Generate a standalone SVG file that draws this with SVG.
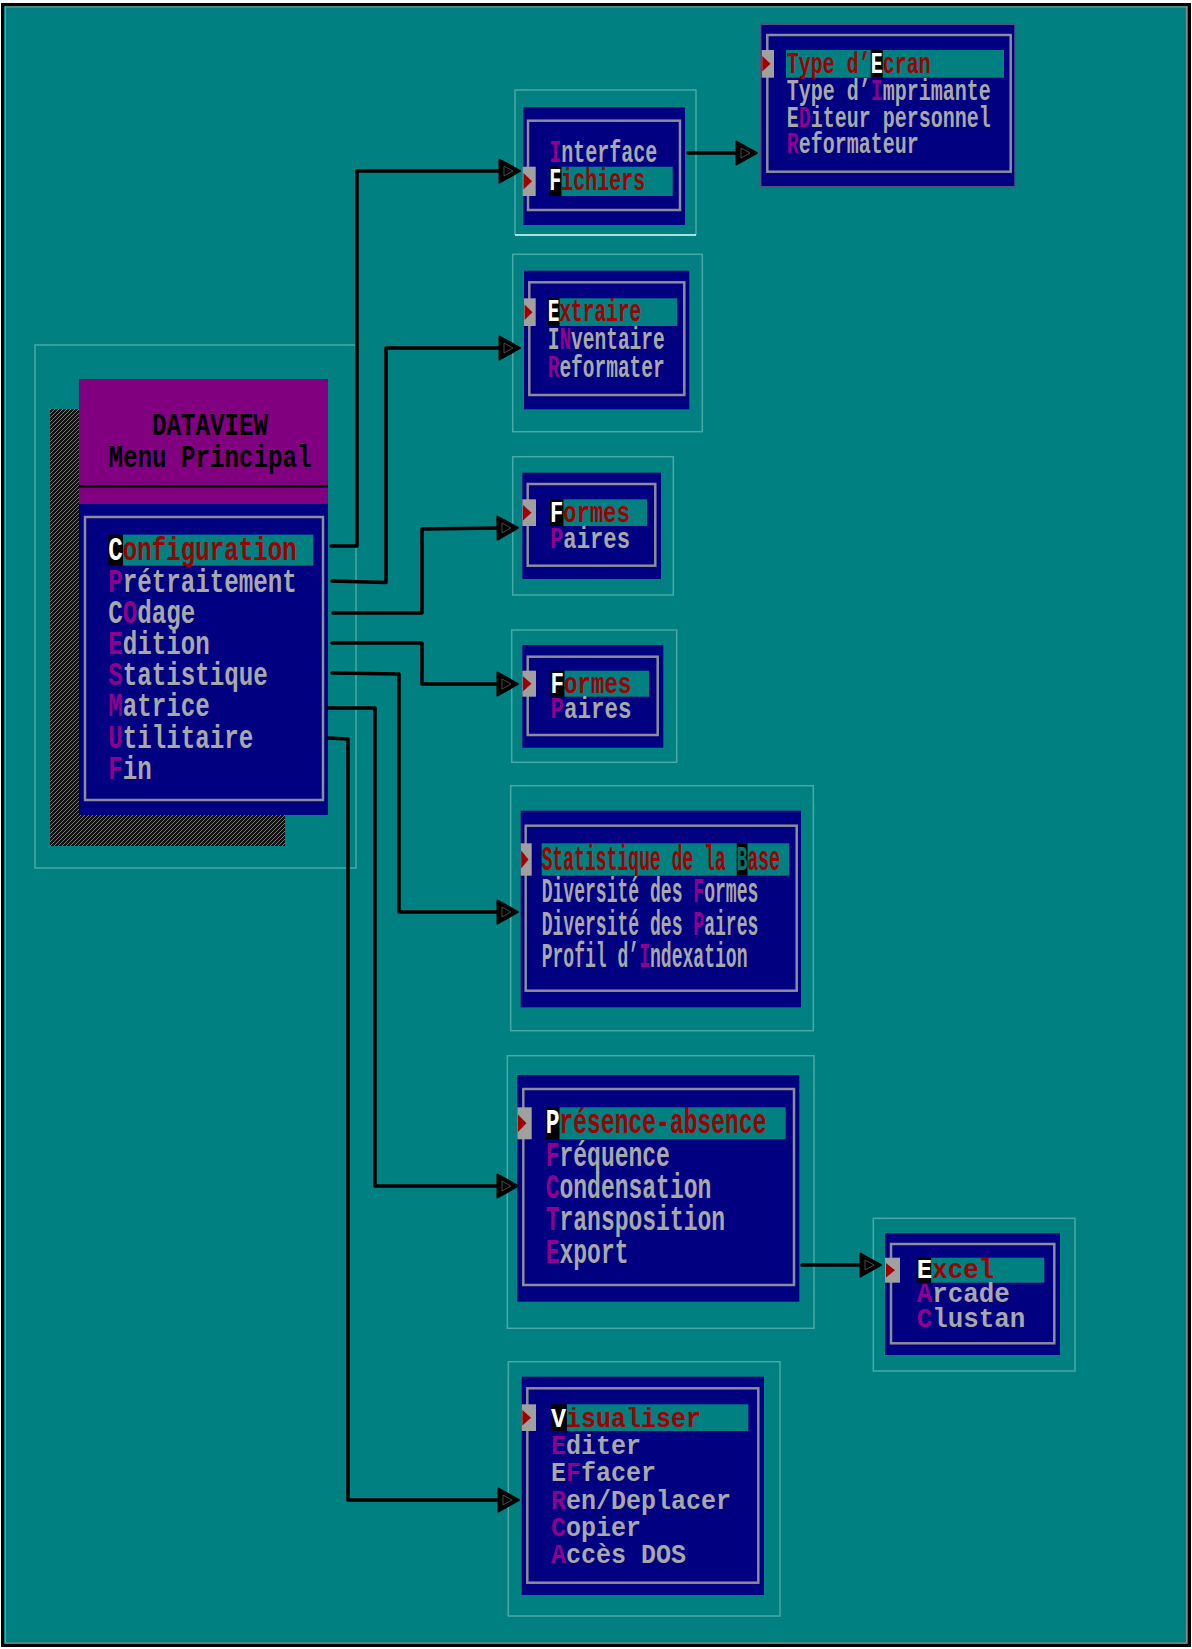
<svg xmlns="http://www.w3.org/2000/svg" width="1192" height="1649" viewBox="0 0 1192 1649">
<defs>
<style>
.t{font-family:"Liberation Mono","DejaVu Sans Mono",monospace;font-weight:bold}
.g{fill:#a8a8a8}.m{fill:#8e008e}.r{fill:#a00000}.w{fill:#ffffff}.k{fill:#000000}.tb{fill:#0a7070}
.frame{fill:none;stroke:#4aa8a8;stroke-width:1.5}
.box{fill:#000080}
.inner{fill:none;stroke:#8c8c9a;stroke-width:2.5}
.bar{fill:#008080}
.blk{fill:#000000}
.mk{fill:#a0a0a0}
.mt{fill:#a00000}
.conn{fill:none;stroke:#000;stroke-width:3.5;stroke-linejoin:round;stroke-linecap:round}
</style>
<pattern id="hatch" width="4" height="4" patternUnits="userSpaceOnUse">
<rect width="4" height="4" fill="#111"/>
<path d="M-1,1 L1,-1 M0,4 L4,0 M3,5 L5,3" stroke="#7a7a7a" stroke-width="1"/>
</pattern>
<marker id="arr" markerUnits="userSpaceOnUse" markerWidth="26" markerHeight="30" refX="7" refY="13" orient="auto">
<path d="M1.5,1.5 L22,13 L1.5,24.5 Z" fill="#000" stroke="#000" stroke-width="2" stroke-linejoin="round"/>
<path d="M6,8 L15,13 L6,18 Z" fill="none" stroke="#5a5a5a" stroke-width="0.8"/>
</marker>
</defs>

<rect x="0" y="0" width="1192" height="1649" fill="#ffffff"/>
<rect x="2.5" y="4.5" width="1187" height="1641" fill="#008080" stroke="#000" stroke-width="3"/>
<rect x="5.5" y="7" width="1181" height="1636" fill="none" stroke="#909090" stroke-width="1"/>

<g id="main-menu">
<rect class="frame" x="35" y="345" width="321" height="523"/>
<rect x="50" y="409" width="235" height="437" fill="url(#hatch)"/>
<rect x="79" y="379" width="249" height="125" fill="#800080"/>
<rect x="79" y="485" width="249" height="2.5" fill="#000"/>
<rect class="box" x="79" y="504" width="249" height="311"/>
<rect class="inner" x="85" y="517" width="238" height="283"/>
<text class="t k" x="210" y="434.7" font-size="31" text-anchor="middle" textLength="116" lengthAdjust="spacingAndGlyphs">DATAVIEW</text>
<text class="t k" x="210" y="466.7" font-size="31" text-anchor="middle" textLength="203" lengthAdjust="spacingAndGlyphs">Menu Principal</text>
<rect class="bar" x="122.8" y="534.6" width="190.5" height="31"/>
<rect class="blk" x="108.3" y="534.6" width="14.5" height="31"/>
<g font-size="33">
<text class="t" x="108.3" y="560.4" textLength="188.5" lengthAdjust="spacingAndGlyphs"><tspan class="w">C</tspan><tspan class="r">onfiguration</tspan></text>
<text class="t" x="108.3" y="591.6" textLength="188.5" lengthAdjust="spacingAndGlyphs"><tspan class="m">P</tspan><tspan class="g">rétraitement</tspan></text>
<text class="t" x="108.3" y="622.8" textLength="87" lengthAdjust="spacingAndGlyphs"><tspan class="g">C</tspan><tspan class="m">O</tspan><tspan class="g">dage</tspan></text>
<text class="t" x="108.3" y="654" textLength="101.5" lengthAdjust="spacingAndGlyphs"><tspan class="m">E</tspan><tspan class="g">dition</tspan></text>
<text class="t" x="108.3" y="685.2" textLength="159.5" lengthAdjust="spacingAndGlyphs"><tspan class="m">S</tspan><tspan class="g">tatistique</tspan></text>
<text class="t" x="108.3" y="716.4" textLength="101.5" lengthAdjust="spacingAndGlyphs"><tspan class="m">M</tspan><tspan class="g">atrice</tspan></text>
<text class="t" x="108.3" y="747.6" textLength="145" lengthAdjust="spacingAndGlyphs"><tspan class="m">U</tspan><tspan class="g">tilitaire</tspan></text>
<text class="t" x="108.3" y="778.8" textLength="43.5" lengthAdjust="spacingAndGlyphs"><tspan class="m">F</tspan><tspan class="g">in</tspan></text>
</g>
</g>

<g id="menu-configuration">
<path d="M515,235 L515,90 L696,90 L696,235" class="frame"/>
<line x1="515" y1="235" x2="696" y2="235" stroke="#e8ffff" stroke-width="1.5"/>
<rect class="box" x="523.3" y="107.3" width="161.7" height="117.7"/>
<rect class="inner" x="528" y="120.7" width="152" height="89.3"/>
<rect class="bar" x="561.3" y="166.7" width="111.4" height="29.3"/>
<rect class="blk" x="549.3" y="166.7" width="12" height="29.3"/>
<rect class="mk" x="522.7" y="166.7" width="13" height="29.3"/>
<path class="mt" d="M523.5,173 L532,181.3 L523.5,189.6 Z"/>
<g font-size="32">
<text class="t" x="549.3" y="161.7" textLength="108" lengthAdjust="spacingAndGlyphs"><tspan class="m">I</tspan><tspan class="g">nterface</tspan></text>
<text class="t" x="549.3" y="190" textLength="96" lengthAdjust="spacingAndGlyphs"><tspan class="w">F</tspan><tspan class="r">ichiers</tspan></text>
</g>
</g>

<g id="menu-fichiers">
<rect class="box" x="760.7" y="24.3" width="254.3" height="162.4" stroke="#50507a" stroke-width="1.5"/>
<rect class="inner" x="767.3" y="35" width="243.4" height="136.7"/>
<rect class="bar" x="786" y="50" width="218" height="27.7"/>
<rect class="blk" x="870.7" y="50" width="12" height="27.7"/>
<rect class="mk" x="761.7" y="50" width="12.3" height="27.7"/>
<path class="mt" d="M762.3,56 L770.5,63.8 L762.3,71.6 Z"/>
<g font-size="30">
<text class="t" x="786.7" y="73.3" textLength="144" lengthAdjust="spacingAndGlyphs"><tspan class="r">Type d’</tspan><tspan class="w">E</tspan><tspan class="r">cran</tspan></text>
<text class="t" x="786.7" y="100" textLength="204" lengthAdjust="spacingAndGlyphs"><tspan class="g">Type d’</tspan><tspan class="m">I</tspan><tspan class="g">mprimante</tspan></text>
<text class="t" x="786.7" y="126.7" textLength="204" lengthAdjust="spacingAndGlyphs"><tspan class="g">E</tspan><tspan class="m">D</tspan><tspan class="g">iteur personnel</tspan></text>
<text class="t" x="786.7" y="153.3" textLength="132" lengthAdjust="spacingAndGlyphs"><tspan class="m">R</tspan><tspan class="g">eformateur</tspan></text>
</g>
</g>

<g id="menu-pretraitement">
<rect class="frame" x="512.7" y="254.3" width="189.6" height="177.4"/>
<rect class="box" x="524" y="270.7" width="165.3" height="138.6"/>
<rect class="inner" x="529.3" y="282.3" width="155" height="112.7"/>
<rect class="bar" x="559.3" y="298.3" width="118" height="27.7"/>
<rect class="blk" x="547.7" y="298.3" width="11.7" height="27.7"/>
<rect class="mk" x="524" y="298.3" width="11.7" height="27.7"/>
<path class="mt" d="M524.6,304.4 L532.5,312.2 L524.6,320 Z"/>
<g font-size="31">
<text class="t" x="547.7" y="321" textLength="93.6" lengthAdjust="spacingAndGlyphs"><tspan class="w">E</tspan><tspan class="r">xtraire</tspan></text>
<text class="t" x="547.7" y="349" textLength="117" lengthAdjust="spacingAndGlyphs"><tspan class="g">I</tspan><tspan class="m">N</tspan><tspan class="g">ventaire</tspan></text>
<text class="t" x="547.7" y="377" textLength="117" lengthAdjust="spacingAndGlyphs"><tspan class="m">R</tspan><tspan class="g">eformater</tspan></text>
</g>
</g>

<g id="menu-codage">
<rect class="frame" x="512.7" y="456.7" width="160.6" height="138.3"/>
<rect class="box" x="522.3" y="472.7" width="138.7" height="106.3"/>
<rect class="inner" x="527.7" y="484" width="127.6" height="81.7"/>
<rect class="bar" x="563.3" y="499.3" width="83.7" height="26.7"/>
<rect class="blk" x="550" y="499.3" width="13.3" height="26.7"/>
<rect class="mk" x="522.3" y="499.3" width="13.7" height="26.7"/>
<path class="mt" d="M523,505 L531.5,512.7 L523,520.4 Z"/>
<g font-size="30">
<text class="t" x="550" y="521.7" textLength="80" lengthAdjust="spacingAndGlyphs"><tspan class="w">F</tspan><tspan class="r">ormes</tspan></text>
<text class="t" x="550" y="548.3" textLength="80" lengthAdjust="spacingAndGlyphs"><tspan class="m">P</tspan><tspan class="g">aires</tspan></text>
</g>
</g>

<g id="menu-edition">
<rect class="frame" x="511.7" y="630" width="165" height="132.3"/>
<rect class="box" x="522.3" y="645" width="141" height="102.7"/>
<rect class="inner" x="527.7" y="656.7" width="130" height="78.3"/>
<rect class="bar" x="564.3" y="670.7" width="84.7" height="26"/>
<rect class="blk" x="550.5" y="670.7" width="13.8" height="26"/>
<rect class="mk" x="522.3" y="670.7" width="13.7" height="26"/>
<path class="mt" d="M523,676.2 L531.5,683.7 L523,691.2 Z"/>
<g font-size="30">
<text class="t" x="550.5" y="692.7" textLength="81" lengthAdjust="spacingAndGlyphs"><tspan class="w">F</tspan><tspan class="r">ormes</tspan></text>
<text class="t" x="550.5" y="718.3" textLength="81" lengthAdjust="spacingAndGlyphs"><tspan class="m">P</tspan><tspan class="g">aires</tspan></text>
</g>
</g>

<g id="menu-statistique">
<rect class="frame" x="510.7" y="785.7" width="302.6" height="245"/>
<rect class="box" x="520.7" y="810.7" width="280.3" height="196.6"/>
<rect class="inner" x="525.7" y="825.7" width="271" height="165"/>
<rect class="bar" x="541.7" y="843.3" width="247.6" height="32.4"/>
<rect class="blk" x="736.7" y="843.3" width="10.8" height="32.4"/>
<rect class="mk" x="520.7" y="843.3" width="11" height="32.4"/>
<path class="mt" d="M521.2,850.5 L528.5,859.5 L521.2,868.5 Z"/>
<g font-size="35">
<text class="t" x="541.7" y="870" textLength="238.3" lengthAdjust="spacingAndGlyphs"><tspan class="r">Statistique de la </tspan><tspan class="tb">B</tspan><tspan class="r">ase</tspan></text>
<text class="t" x="541.7" y="901.7" textLength="216.6" lengthAdjust="spacingAndGlyphs"><tspan class="g">Diversité des </tspan><tspan class="m">F</tspan><tspan class="g">ormes</tspan></text>
<text class="t" x="541.7" y="934.5" textLength="216.6" lengthAdjust="spacingAndGlyphs"><tspan class="g">Diversité des </tspan><tspan class="m">P</tspan><tspan class="g">aires</tspan></text>
<text class="t" x="541.7" y="967.3" textLength="205.8" lengthAdjust="spacingAndGlyphs"><tspan class="g">Profil d’</tspan><tspan class="m">I</tspan><tspan class="g">ndexation</tspan></text>
</g>
</g>

<g id="menu-matrice">
<rect class="frame" x="507.3" y="1055.7" width="306.7" height="272.6"/>
<rect class="box" x="517.3" y="1075" width="282" height="226.7"/>
<rect class="inner" x="523.3" y="1089" width="270.7" height="196"/>
<rect class="bar" x="559.3" y="1107.3" width="226.4" height="32"/>
<rect class="blk" x="545.7" y="1107.3" width="13.6" height="32"/>
<rect class="mk" x="517.3" y="1107.3" width="14.4" height="32"/>
<path class="mt" d="M518,1114.5 L526.5,1123.3 L518,1132 Z"/>
<g font-size="35">
<text class="t" x="545.7" y="1133.3" textLength="220.8" lengthAdjust="spacingAndGlyphs"><tspan class="w">P</tspan><tspan class="r">résence-absence</tspan></text>
<text class="t" x="545.7" y="1165.6" textLength="124.2" lengthAdjust="spacingAndGlyphs"><tspan class="m">F</tspan><tspan class="g">réquence</tspan></text>
<text class="t" x="545.7" y="1197.9" textLength="165.6" lengthAdjust="spacingAndGlyphs"><tspan class="m">C</tspan><tspan class="g">ondensation</tspan></text>
<text class="t" x="545.7" y="1230.2" textLength="179.4" lengthAdjust="spacingAndGlyphs"><tspan class="m">T</tspan><tspan class="g">ransposition</tspan></text>
<text class="t" x="545.7" y="1262.5" textLength="82.8" lengthAdjust="spacingAndGlyphs"><tspan class="m">E</tspan><tspan class="g">xport</tspan></text>
</g>
</g>

<g id="menu-export">
<rect class="frame" x="873.3" y="1218.3" width="201.7" height="152.7"/>
<rect class="box" x="885" y="1233.3" width="175" height="121.7"/>
<rect class="inner" x="891" y="1244" width="163.3" height="99.3"/>
<rect class="bar" x="931" y="1257.7" width="113.3" height="25"/>
<rect class="blk" x="916.7" y="1257.7" width="14.5" height="25"/>
<rect class="mk" x="885" y="1257.7" width="15" height="25"/>
<path class="mt" d="M886,1263 L895,1270.2 L886,1277.4 Z"/>
<g font-size="27">
<text class="t" x="916.7" y="1277.7" textLength="77.5" lengthAdjust="spacingAndGlyphs"><tspan class="w">E</tspan><tspan class="r">xcel</tspan></text>
<text class="t" x="916.7" y="1302.2" textLength="93" lengthAdjust="spacingAndGlyphs"><tspan class="m">A</tspan><tspan class="g">rcade</tspan></text>
<text class="t" x="916.7" y="1326.7" textLength="108.5" lengthAdjust="spacingAndGlyphs"><tspan class="m">C</tspan><tspan class="g">lustan</tspan></text>
</g>
</g>

<g id="menu-utilitaire">
<rect class="frame" x="508.3" y="1361.7" width="271.7" height="254.3"/>
<rect class="box" x="521.7" y="1376.7" width="242.3" height="218.3"/>
<rect class="inner" x="527.3" y="1388.3" width="231" height="194.4"/>
<rect class="bar" x="566.7" y="1404.3" width="181.6" height="26.7"/>
<rect class="blk" x="551" y="1404.3" width="15.7" height="26.7"/>
<rect class="mk" x="521.7" y="1404.3" width="14.3" height="26.7"/>
<path class="mt" d="M522.4,1410 L531,1417.7 L522.4,1425.4 Z"/>
<g font-size="28">
<text class="t" x="551" y="1426.7" textLength="150" lengthAdjust="spacingAndGlyphs"><tspan class="w">V</tspan><tspan class="r">isualiser</tspan></text>
<text class="t" x="551" y="1454" textLength="90" lengthAdjust="spacingAndGlyphs"><tspan class="m">E</tspan><tspan class="g">diter</tspan></text>
<text class="t" x="551" y="1481.3" textLength="105" lengthAdjust="spacingAndGlyphs"><tspan class="g">E</tspan><tspan class="m">F</tspan><tspan class="g">facer</tspan></text>
<text class="t" x="551" y="1508.6" textLength="180" lengthAdjust="spacingAndGlyphs"><tspan class="m">R</tspan><tspan class="g">en/Deplacer</tspan></text>
<text class="t" x="551" y="1535.9" textLength="90" lengthAdjust="spacingAndGlyphs"><tspan class="m">C</tspan><tspan class="g">opier</tspan></text>
<text class="t" x="551" y="1563.2" textLength="135" lengthAdjust="spacingAndGlyphs"><tspan class="m">A</tspan><tspan class="g">ccès DOS</tspan></text>
</g>
</g>

<g id="connectors">
<path class="conn" d="M331,546 L357,546 L357,171 L505,171" marker-end="url(#arr)"/>
<path class="conn" d="M332,581 L386,582.5 L386,348 L505,348" marker-end="url(#arr)"/>
<path class="conn" d="M333,613 L422,613 L422,529 L503,528" marker-end="url(#arr)"/>
<path class="conn" d="M332,643 L422,643 L422,684 L503,684" marker-end="url(#arr)"/>
<path class="conn" d="M332,673 L399,674 L399,912 L503,912" marker-end="url(#arr)"/>
<path class="conn" d="M328,708 L375,708 L375,1186 L503,1186" marker-end="url(#arr)"/>
<path class="conn" d="M328,738 L348,739 L348,1500 L504,1500" marker-end="url(#arr)"/>
<path class="conn" d="M688,153 L742,153" marker-end="url(#arr)"/>
<path class="conn" d="M802,1265 L866,1265" marker-end="url(#arr)"/>
</g>
</svg>
